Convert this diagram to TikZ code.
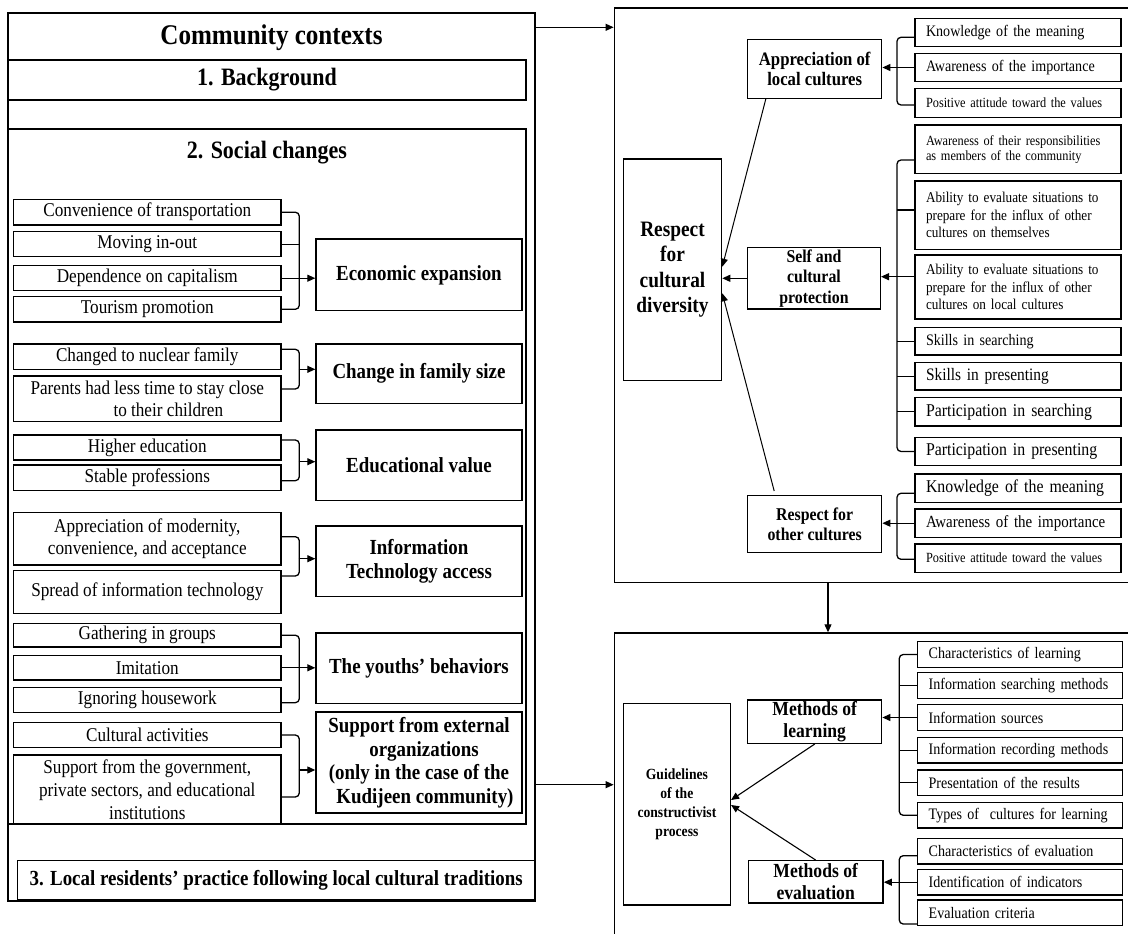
\documentclass[tikz,border=0pt]{standalone}
\usepackage{fontspec}
\setmainfont{Liberation Serif}[FakeStretch=0.88]
\usetikzlibrary{arrows.meta}
\newcommand\myfs[2]{\fontsize{#1}{#2}\selectfont}
\tikzset{
  bx/.style={draw, line width=1.4pt, rectangle, inner sep=0pt},
  litem/.style={bx, minimum width=267.4pt, align=center, font=\myfs{19.5}{22.5}},
  lhead/.style={bx, minimum width=206pt, align=center, font=\bfseries\myfs{21.5}{24}},
  ritem/.style={bx, text width=184pt, inner xsep=11pt, align=left, minimum width=206pt},
  ritemb/.style={bx, text width=182.7pt, inner xsep=11pt, align=left, minimum width=204.7pt, minimum height=25.7pt, font=\myfs{16}{18}},
  rhead/.style={bx, align=center, font=\bfseries\myfs{19}{19.5}},
  brk/.style={line width=1.3pt, rounded corners=4pt},
  arr/.style={line width=1.1pt, -{Triangle[length=8pt,width=7pt]}},
  ttl/.style={anchor=base, inner sep=0pt},
}
\begin{document}
\begin{tikzpicture}[x=1pt,y=-1pt]
\useasboundingbox (0,0) rectangle (1128,934);
\clip (0,0) rectangle (1128,934);
\fill[white] (0,0) rectangle (1128,934);

% ---------------- Left: community contexts ----------------
\node[bx, minimum width=527pt, minimum height=888pt] (outer) at (271.5,457) {};
\node[ttl, font=\bfseries\myfs{28.5}{31}] (cct) at (271.5,45) {Community contexts};
\node[bx, minimum width=518pt, minimum height=40pt, font=\bfseries\myfs{25}{28}] (bg) at (267,80) {1. Background};
\node[bx, minimum width=518pt, minimum height=695pt] (soc) at (267,476.5) {};
\node[ttl, font=\bfseries\myfs{25}{28}] (soct) at (267,158.3) {2. Social changes};

\node[litem, minimum height=25.7pt] (c1) at (147.3,212.2) {Convenience of transportation};
\node[litem, minimum height=25pt] (c2) at (147.3,244.2) {Moving in-out};
\node[litem, minimum height=25pt] (c3) at (147.3,278.2) {Dependence on capitalism};
\node[litem, minimum height=25.3pt] (c4) at (147.3,309.3) {Tourism promotion};
\node[lhead, minimum height=71.7pt] (eco) at (419,274.9) {Economic expansion};

\node[litem, minimum height=25.3pt] (f1) at (147.3,356.7) {Changed to nuclear family};
\node[litem, minimum height=45.7pt] (f2) at (147.3,398.8) {Parents had less time to stay close\\\hspace*{42pt}to their children};
\node[lhead, minimum height=59.3pt] (fam) at (419,373.7) {Change in family size};

\node[litem, minimum height=25pt] (h1) at (147.3,447.5) {Higher education};
\node[litem, minimum height=25.7pt] (h2) at (147.3,477.8) {Stable professions};
\node[lhead, minimum height=70.7pt] (edu) at (419,465.3) {Educational value};

\node[litem, minimum height=52.3pt] (i1) at (147.3,538.8) {Appreciation of modernity,\\convenience, and acceptance};
\node[litem, minimum height=42.6pt] (i2) at (147.3,592) {Spread of information technology};
\node[lhead, minimum height=70.7pt] (itb) at (419,561.3) {Information\\Technology access};

\node[litem, minimum height=23.7pt] (y1) at (147.3,635.2) {Gathering in groups};
\node[litem, minimum height=24.3pt] (y2) at (147.3,667.8) {Imitation};
\node[litem, minimum height=25pt] (y3) at (147.3,699.8) {Ignoring housework};
\node[lhead, minimum height=70.3pt] (yth) at (419,668.2) {The youths’ behaviors};

\node[litem, minimum height=24.6pt] (s1) at (147.3,735) {Cultural activities};
\node[litem, minimum height=69pt, font=\myfs{19.5}{23}] (s2) at (147.3,789.5) {Support from the government,\\private sectors, and educational\\institutions};
\node[lhead, minimum height=101pt, font=\bfseries\myfs{21.5}{23.5}] (ext) at (419,762.5) {Support from external\\\hspace*{10pt}organizations\\(only in the case of the\\\hspace*{12pt}Kudijeen community)};

\node[bx, minimum width=517.7pt, minimum height=39.3pt, font=\bfseries\myfs{21.5}{24}] (loc) at (276.2,880.3) {3. Local residents’ practice following local cultural traditions};

% left brackets
\draw[brk] (c1.east) -| ([xshift=17.6pt]c4.east) -- (c4.east);
\draw[brk] (c2.east) -- ++(17.6pt,0);
\draw[arr] (c3.east) -- (c3.east -| eco.west);

\draw[brk] ([yshift=7.4pt]f1.east) -| ([xshift=17.6pt,yshift=9.8pt]f2.east) -- ([yshift=9.8pt]f2.east);
\coordinate (fj) at (298.6,369.3);
\draw[arr] (fj) -- (fj -| fam.west);

\draw[brk] ([yshift=7.5pt]h1.east) -| ([xshift=17.6pt,yshift=-2.9pt]h2.east) -- ([yshift=-2.9pt]h2.east);
\coordinate (ej) at (298.6,461.7);
\draw[arr] (ej) -- (ej -| edu.west);

\draw[brk] ([yshift=2.1pt]i1.east) -| ([xshift=17.6pt,yshift=16pt]i2.east) -- ([yshift=16pt]i2.east);
\coordinate (ij) at (298.6,558.7);
\draw[arr] (ij) -- (ij -| itb.west);

\draw[brk] (y1.east) -| ([xshift=17.6pt,yshift=-2.9pt]y3.east) -- ([yshift=-2.9pt]y3.east);
\draw[arr] (y2.east) -- (y2.east -| yth.west);

\draw[brk] (s1.east) -| ([xshift=17.6pt,yshift=-7.5pt]s2.east) -- ([yshift=-7.5pt]s2.east);
\coordinate (sj) at (298.6,770);
\draw[arr] (sj) -- (sj -| ext.west);

% ---------------- Right frames ----------------
\node[bx, minimum width=525.7pt, minimum height=574.5pt] (top) at (877.15,295.25) {};
\node[bx, minimum width=525.7pt, minimum height=317pt] (bot) at (877.15,791.5) {};

\coordinate (o1) at ([yshift=-15pt]outer.north east);
\draw[arr] (o1) -- (o1 -| top.west);
\coordinate (o2) at ([yshift=117pt]outer.south east);
\draw[arr] (o2) -- (o2 -| bot.west);
\draw[arr] ([xshift=-49.15pt]top.south) -- ([xshift=-49.15pt]bot.north);

% ---------------- Right top contents ----------------
\node[bx, minimum width=98.2pt, minimum height=221.7pt, align=center, font=\bfseries\myfs{22}{25.5}] (rcd) at (672.5,269.9) {Respect\\for\\cultural\\diversity};
\node[rhead, minimum width=134pt, minimum height=58.6pt] (alc) at (814.7,69) {Appreciation of\\local cultures};
\node[rhead, minimum width=132.6pt, minimum height=61.3pt, font=\bfseries\myfs{18}{20.5}] (scp) at (814,278.3) {Self and\\cultural\\protection};
\node[rhead, minimum width=134pt, minimum height=57pt, font=\bfseries\myfs{18}{20}] (roc) at (814.7,524.2) {Respect for\\other cultures};

\node[ritem, minimum height=28.4pt, font=\myfs{16}{18}] (a1) at (1018,32.5) {Knowledge of the meaning};
\node[ritem, minimum height=28.4pt, font=\myfs{16}{18}] (a2) at (1018,67.5) {Awareness of the importance};
\node[ritem, minimum height=29pt, font=\myfs{14}{16}] (a3) at (1018,102.8) {Positive attitude toward the values};
\node[ritem, minimum height=48.3pt, font=\myfs{14}{15}] (p1) at (1018,149.2) {Awareness of their responsibilities\\as members of the community};
\node[ritem, minimum height=68.3pt, font=\myfs{15}{17.5}] (p2) at (1018,215.2) {Ability to evaluate situations to\\prepare for the influx of other\\cultures on themselves};
\node[ritem, minimum height=64pt, font=\myfs{15}{17.2}] (p3) at (1018,287) {Ability to evaluate situations to\\prepare for the influx of other\\cultures on local cultures};
\node[ritem, minimum height=27.7pt, font=\myfs{16}{18}] (p4) at (1018,341.2) {Skills in searching};
\node[ritem, minimum height=27.7pt, font=\myfs{17.5}{19}] (p5) at (1018,376.2) {Skills in presenting};
\node[ritem, minimum height=28.7pt, font=\myfs{18}{20}] (p6) at (1018,411.7) {Participation in searching};
\node[ritem, minimum height=28.4pt, font=\myfs{18}{20}] (p7) at (1018,451.5) {Participation in presenting};
\node[ritem, minimum height=28.3pt, font=\myfs{18}{20}] (b1) at (1018,488.2) {Knowledge of the meaning};
\node[ritem, minimum height=28.3pt, font=\myfs{17}{19}] (b2) at (1018,523.2) {Awareness of the importance};
\node[ritem, minimum height=28.3pt, font=\myfs{14}{16}] (b3) at (1018,558.2) {Positive attitude toward the values};

\draw[brk] ([yshift=-4.8pt]a1.west) -| ([xshift=-17.3pt,yshift=-2.2pt]a3.west) -- ([yshift=-2.2pt]a3.west);
\draw[arr] (a2.west) -- (a2.west -| alc.east);

\draw[brk] ([yshift=-10.8pt]p1.west) -| ([xshift=-17.3pt]p7.west) -- (p7.west);
\draw[brk] ([yshift=5.2pt]p2.west) -- ++(-17.3pt,0);
\draw[brk] (p4.west) -- ++(-17.3pt,0);
\draw[brk] (p5.west) -- ++(-17.3pt,0);
\draw[brk] (p6.west) -- ++(-17.3pt,0);
\coordinate (pj) at ([yshift=10.3pt]p3.west);
\draw[arr] (pj) -- (pj -| scp.east);

\draw[brk] ([yshift=-5.1pt]b1.west) -| ([xshift=-17.3pt,yshift=-1.1pt]b3.west) -- ([yshift=-1.1pt]b3.west);
\draw[arr] (b2.west) -- (b2.west -| roc.east);

\draw[arr, line width=1pt] ([xshift=18.8pt]alc.south west) -- ([yshift=3.2pt]rcd.east);
\draw[arr] (scp.west) -- (scp.west -| rcd.east);
\draw[arr, line width=1pt] ([xshift=27.2pt,yshift=4pt]roc.north west) -- ([yshift=-23.4pt]rcd.east);

% ---------------- Right bottom contents ----------------
\node[bx, minimum width=106.9pt, minimum height=201.7pt, align=center, font=\bfseries\myfs{15.5}{19}] (gui) at (676.9,804.2) {Guidelines\\of the\\constructivist\\process};
\node[rhead, minimum width=134pt, minimum height=43.3pt, font=\bfseries\myfs{20}{22}] (mol) at (814.7,721.7) {Methods of\\learning};
\node[rhead, minimum width=134.9pt, minimum height=42.3pt, font=\bfseries\myfs{20}{22}] (moe) at (815.7,881.9) {Methods of\\evaluation};

\node[ritemb] (l1) at (1020,654.5) {Characteristics of learning};
\node[ritemb] (l2) at (1020,685.5) {\mbox{Information searching methods}};
\node[ritemb] (l3) at (1020,717.5) {Information sources};
\node[ritemb] (l4) at (1020,750.3) {\mbox{Information recording methods}};
\node[ritemb] (l5) at (1020,782.8) {Presentation of the results};
\node[ritemb] (l6) at (1020,815.3) {\mbox{Types of~ cultures for learning}};
\node[ritemb] (v1) at (1020,851.2) {Characteristics of evaluation};
\node[ritemb] (v2) at (1020,882.2) {Identification of indicators};
\node[ritemb] (v3) at (1020,912.8) {Evaluation criteria};

\draw[brk] (l1.west) -| ([xshift=-17.7pt]l6.west) -- (l6.west);
\draw[brk] (l2.west) -- ++(-17.7pt,0);
\draw[brk] (l4.west) -- ++(-17.7pt,0);
\draw[brk] (l5.west) -- ++(-17.7pt,0);
\draw[arr] (l3.west) -- (l3.west -| mol.east);

\draw[brk] ([yshift=-4.5pt]v1.west) -| ([xshift=-17.7pt,yshift=-11.2pt]v3.west) -- ([yshift=-11.2pt]v3.west);
\draw[arr] (v2.west) -- (v2.west -| moe.east);

\draw[arr] (mol.south) -- ([yshift=4.2pt]gui.east);
\draw[arr] (moe.north) -- ([yshift=-0.8pt]gui.east);
\end{tikzpicture}
\end{document}
